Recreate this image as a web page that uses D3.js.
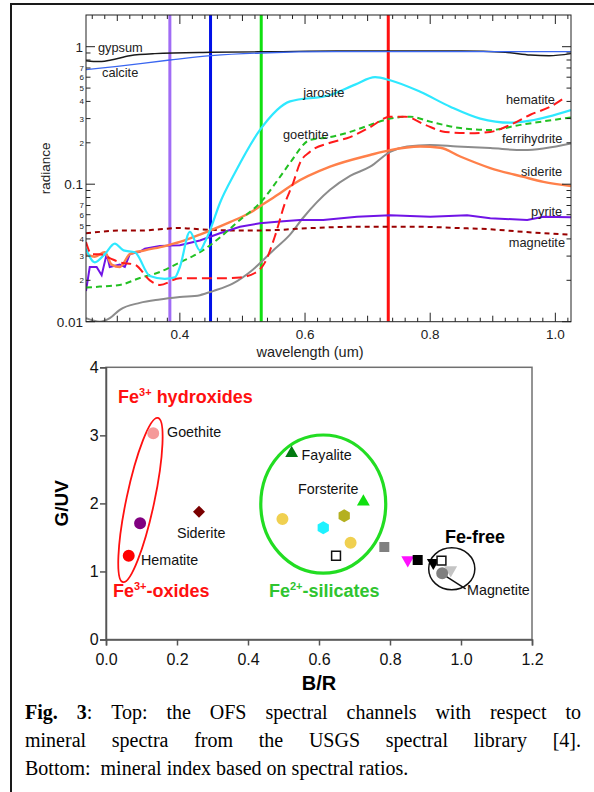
<!DOCTYPE html>
<html lang="en">
<head>
    <meta charset="UTF-8">
    <title>Fig. 3 - OFS spectral channels and mineral index</title>
    <style>
        body {
            margin: 0;
            background: #fff;
            font-family: Arial, "Liberation Sans", sans-serif;
        }
        svg {
            display: block;
        }
        .caption {
            font-family: "Liberation Serif", "Times New Roman", serif;
            font-size: 20px;
            fill: #000;
        }
    </style>
</head>
<body>
    <svg width="594" height="792"></svg>

    <script src="https://d3js.org/d3.v7.min.js"></script>
    <script>
        // ---- top panel: USGS spectra, [wavelength um, radiance] ----
        const gypsum = [[0.25,0.79],[0.262,0.78],[0.275,0.78],[0.29,0.80],[0.32,0.86],[0.36,0.89],[0.45,0.91],[0.55,0.92],[0.65,0.93],[0.75,0.93],[0.85,0.93],[0.92,0.91],[0.96,0.87],[0.99,0.86],[1.025,0.89]];
        const calcite = [[0.25,0.68],[0.3,0.72],[0.384,0.8],[0.45,0.86],[0.53,0.9],[0.65,0.92],[0.8,0.92],[1.025,0.92]];
        const jarosite = [[0.25,0.034],[0.264,0.027],[0.28,0.031],[0.296,0.037],[0.31,0.033],[0.328,0.032],[0.352,0.0215],[0.376,0.0205],[0.392,0.021],[0.4,0.025],[0.416,0.045],[0.432,0.033],[0.44,0.038],[0.448,0.046],[0.464,0.073],[0.488,0.121],[0.528,0.248],[0.576,0.40],[0.64,0.445],[0.68,0.53],[0.712,0.60],[0.736,0.57],[0.784,0.47],[0.832,0.366],[0.88,0.30],[0.928,0.28],[0.96,0.29],[1.025,0.346]];
        const goethite = [[0.25,0.0177],[0.272,0.018],[0.304,0.0185],[0.336,0.0208],[0.368,0.023],[0.4,0.027],[0.432,0.032],[0.464,0.041],[0.496,0.055],[0.528,0.073],[0.56,0.113],[0.576,0.143],[0.608,0.21],[0.64,0.22],[0.672,0.24],[0.704,0.27],[0.736,0.30],[0.768,0.31],[0.8,0.285],[0.848,0.256],[0.896,0.248],[0.944,0.27],[1.025,0.306]];
        const hematite = [[0.25,0.038],[0.259,0.031],[0.272,0.031],[0.288,0.029],[0.304,0.027],[0.328,0.026],[0.352,0.020],[0.368,0.0185],[0.4,0.0207],[0.432,0.0207],[0.464,0.0207],[0.496,0.021],[0.52,0.0226],[0.536,0.027],[0.552,0.042],[0.568,0.073],[0.581,0.102],[0.592,0.143],[0.608,0.172],[0.64,0.20],[0.672,0.22],[0.704,0.26],[0.736,0.31],[0.76,0.31],[0.792,0.27],[0.824,0.24],[0.864,0.235],[0.896,0.24],[0.928,0.27],[0.96,0.32],[0.992,0.366],[1.013,0.42]];
        const siderite = [[0.25,0.031],[0.264,0.0297],[0.28,0.032],[0.291,0.026],[0.304,0.025],[0.32,0.031],[0.344,0.033],[0.376,0.0355],[0.4,0.038],[0.432,0.043],[0.448,0.046],[0.48,0.053],[0.512,0.062],[0.536,0.073],[0.56,0.086],[0.581,0.10],[0.64,0.134],[0.704,0.163],[0.736,0.177],[0.784,0.188],[0.816,0.184],[0.848,0.159],[0.896,0.131],[0.949,0.113],[0.981,0.104],[1.025,0.097]];
        const ferrihydrite = [[0.25,0.0106],[0.272,0.01],[0.288,0.0106],[0.304,0.0122],[0.336,0.0137],[0.368,0.0145],[0.4,0.0151],[0.432,0.0156],[0.453,0.0167],[0.485,0.019],[0.517,0.024],[0.549,0.033],[0.576,0.043],[0.597,0.057],[0.64,0.091],[0.672,0.115],[0.704,0.134],[0.736,0.172],[0.763,0.188],[0.8,0.193],[0.843,0.188],[0.896,0.183],[0.949,0.177],[1.025,0.198]];
        const pyrite = [[0.25,0.0167],[0.256,0.025],[0.267,0.025],[0.275,0.0218],[0.283,0.031],[0.288,0.025],[0.304,0.026],[0.312,0.025],[0.32,0.031],[0.336,0.0322],[0.344,0.034],[0.368,0.0356],[0.4,0.036],[0.432,0.039],[0.464,0.044],[0.496,0.049],[0.528,0.052],[0.56,0.0535],[0.592,0.055],[0.629,0.055],[0.683,0.058],[0.736,0.0595],[0.8,0.058],[0.859,0.0595],[0.896,0.0565],[0.955,0.055],[0.981,0.058],[1.025,0.0575]];
        const magnetite = [[0.25,0.044],[0.272,0.045],[0.304,0.046],[0.336,0.046],[0.368,0.047],[0.4,0.048],[0.432,0.047],[0.496,0.046],[0.56,0.0465],[0.576,0.047],[0.683,0.049],[0.736,0.049],[0.784,0.049],[0.843,0.048],[0.896,0.047],[0.949,0.045],[1.025,0.043]];

        // OFS channels (UV, B, G, R) in um
        const channels = [0.384, 0.449, 0.53, 0.733];

        // ---- bottom panel: mineral index ----
        const markerBR  = [0.133, 0.096, 0.262, 0.064, 0.523, 0.725, 0.497, 0.671, 0.612, 0.689, 0.648, 0.784, 0.85, 0.878, 0.922, 0.945, 0.971, 0.947];
        const markerGUV = [3.03, 1.708, 1.878, 1.231, 2.736, 2.025, 1.771, 1.819, 1.643, 1.422, 1.231, 1.359, 1.168, 1.168, 1.129, 1.158, 1.021, 0.973];
        const xTickLabels = ["0.0", "0.2", "0.4", "0.6", "0.8", "1.0", "1.2"];
        const yTickLabels = ["0", "1", "2", "3", "4"];

        // ---------------------------------------------------------------
        const svg = d3.select("svg");

        // outer frame of the figure
        svg.append("rect")
            .attr("x", 11).attr("y", 4)
            .attr("width", 600).attr("height", 800)
            .attr("fill", "none").attr("stroke", "#1a1a1a").attr("stroke-width", 2);

        // ======================= top chart ============================
        const x = d3.scaleLinear().domain([0.25, 1.025]).range([86, 571]);
        const y = d3.scaleLog().domain([0.01, 1.7]).range([321.7, 15]);
        const [L, R] = x.range(), [B, T] = y.range();

        const topG = svg.append("g");
        topG.append("clipPath").attr("id", "clipTop")
            .append("rect").attr("x", L).attr("y", T).attr("width", R - L).attr("height", B - T);

        const plot = topG.append("g").attr("clip-path", "url(#clipTop)");

        const channelColors = ["#a06cf5", "#0010e8", "#10e010", "#ff1010"];
        plot.selectAll("line.channel")
            .data(channels)
            .join("line")
            .attr("class", "channel")
            .attr("x1", d => x(d)).attr("x2", d => x(d))
            .attr("y1", T).attr("y2", B)
            .attr("stroke", (d, i) => channelColors[i])
            .attr("stroke-width", 3);

        const spectra = [
            { data: gypsum, color: "#1a1a1a", width: 1.4 },
            { data: calcite, color: "#3a66f0", width: 1.3 },
            { data: ferrihydrite, color: "#8c8c8c", width: 2 },
            { data: magnetite, color: "#990000", width: 2, dash: "5,4" },
            { data: pyrite, color: "#7014e6", width: 2, curve: d3.curveLinear },
            { data: siderite, color: "#ff804a", width: 2.4 },
            { data: goethite, color: "#22c022", width: 2, dash: "6,4" },
            { data: jarosite, color: "#2ee8ff", width: 2.2 },
            { data: hematite, color: "#ff1a1a", width: 2, dash: "10,5" }
        ];

        spectra.forEach(s => {
            const line = d3.line()
                .x(d => x(d[0]))
                .y(d => y(d[1]))
                .curve(s.curve || d3.curveMonotoneX);
            plot.append("path")
                .attr("d", line(s.data))
                .attr("fill", "none")
                .attr("stroke", s.color)
                .attr("stroke-width", s.width)
                .attr("stroke-dasharray", s.dash || null);
        });

        // frame
        topG.append("rect")
            .attr("x", L).attr("y", T).attr("width", R - L).attr("height", B - T)
            .attr("fill", "none").attr("stroke", "#222").attr("stroke-width", 1);

        // x ticks every 0.02, inward on top and bottom
        const xTicks = d3.range(13, 52).map(i => i * 0.02);
        xTicks.forEach(v => {
            const tenth = Math.round(v * 10);
            const onTenth = Math.abs(v * 10 - tenth) < 1e-6;
            const len = onTenth ? (tenth % 2 === 0 ? 9 : 6) : 4;
            topG.append("line").attr("x1", x(v)).attr("x2", x(v)).attr("y1", T).attr("y2", T + len)
                .attr("stroke", "#222");
            topG.append("line").attr("x1", x(v)).attr("x2", x(v)).attr("y1", B).attr("y2", B - len)
                .attr("stroke", "#222");
        });
        [0.4, 0.6, 0.8, 1.0].forEach(v => {
            topG.append("text")
                .attr("x", x(v)).attr("y", B + 17)
                .attr("text-anchor", "middle")
                .attr("font-size", 13.5).attr("fill", "#222")
                .text(v.toFixed(1));
        });

        // y ticks: log, labelled minors 2..7
        [0.01, 0.1, 1].forEach(dec => {
            d3.range(1, 10).forEach(k => {
                const v = dec * k;
                if (v > 1.7) return;
                const len = k === 1 ? 9 : 4.5;
                topG.append("line").attr("x1", L).attr("x2", L + len).attr("y1", y(v)).attr("y2", y(v))
                    .attr("stroke", "#222");
                topG.append("line").attr("x1", R).attr("x2", R - len).attr("y1", y(v)).attr("y2", y(v))
                    .attr("stroke", "#222");
                if (k === 1) {
                    topG.append("text")
                        .attr("x", L - 3).attr("y", y(v) + 5)
                        .attr("text-anchor", "end")
                        .attr("font-size", 13.5).attr("fill", "#222")
                        .text(dec === 1 ? "1" : String(dec));
                } else if (k <= 7 && dec < 1) {
                    topG.append("text")
                        .attr("x", L - 2).attr("y", y(v) + 3)
                        .attr("text-anchor", "end")
                        .attr("font-size", 8).attr("fill", "#222")
                        .text(k);
                }
            });
        });

        topG.append("text")
            .attr("transform", `translate(50,${(T + B) / 2}) rotate(-90)`)
            .attr("text-anchor", "middle")
            .attr("font-size", 13.5).attr("fill", "#222")
            .text("radiance");
        topG.append("text")
            .attr("x", 310).attr("y", B + 35)
            .attr("text-anchor", "middle")
            .attr("font-size", 14.5).attr("fill", "#222")
            .text("wavelength (um)");

        // curve labels [wavelength, radiance]
        const curveLabels = [
            ["gypsum", 0.269, 0.908], ["calcite", 0.2756, 0.597], ["jarosite", 0.597, 0.434],
            ["goethite", 0.5648, 0.2114], ["hematite", 0.921, 0.38], ["ferrihydrite", 0.9147, 0.1977],
            ["siderite", 0.945, 0.1138], ["pyrite", 0.961, 0.0587], ["magnetite", 0.9257, 0.0347]
        ];
        topG.selectAll("text.clabel")
            .data(curveLabels)
            .join("text")
            .attr("class", "clabel")
            .attr("x", d => x(d[1])).attr("y", d => y(d[2]))
            .attr("font-size", 12.8).attr("fill", "#222")
            .text(d => d[0]);

        // ======================= bottom chart =========================
        const bx = d3.scaleLinear().domain([0, 1.2]).range([106, 532]);
        const by = d3.scaleLinear().domain([0, 4]).range([639.5, 367.3]);
        const botG = svg.append("g");

        botG.append("rect")
            .attr("x", bx(0)).attr("y", by(4))
            .attr("width", bx(1.2) - bx(0)).attr("height", by(0) - by(4))
            .attr("fill", "none").attr("stroke", "#707070").attr("stroke-width", 1.5);

        const xAxis = botG.append("g")
            .attr("transform", `translate(0,${by(0)})`)
            .call(d3.axisBottom(bx).tickValues(d3.range(0, 7).map(i => i * 0.2))
                .tickSize(6).tickFormat((d, i) => xTickLabels[i]));
        const yAxis = botG.append("g")
            .attr("transform", `translate(${bx(0)},0)`)
            .call(d3.axisLeft(by).tickValues([0, 1, 2, 3, 4])
                .tickSize(6).tickFormat((d, i) => yTickLabels[i]));
        [xAxis, yAxis].forEach(a => {
            a.select(".domain").attr("stroke", "#555").attr("stroke-width", 1.5);
            a.selectAll(".tick line").attr("stroke", "#555").attr("stroke-width", 1.5);
            a.selectAll(".tick text").attr("font-size", 16).attr("font-family", "Arial, 'Liberation Sans', sans-serif").attr("fill", "#111");
        });
        xAxis.selectAll(".tick text").attr("dy", "1.05em");
        yAxis.selectAll(".tick text").attr("dx", "0.1em");

        botG.append("text")
            .attr("transform", `translate(68,${by(2)}) rotate(-90)`)
            .attr("text-anchor", "middle")
            .attr("font-size", 19).attr("font-weight", "bold")
            .text("G/UV");
        botG.append("text")
            .attr("x", bx(0.6)).attr("y", 690)
            .attr("text-anchor", "middle")
            .attr("font-size", 20).attr("font-weight", "bold")
            .text("B/R");

        // group ellipses: centre [B/R, G/UV], half axes in data units, tilt in degrees
        const groups = [
            { c: [0.097, 2.05], r: [0.0394, 1.234], tilt: 12, color: "#ff1010", width: 1.8 },
            { c: [0.612, 1.99], r: [0.176, 1.015], tilt: 0, color: "#22dd22", width: 3.2 },
            { c: [0.974, 1.04], r: [0.065, 0.309], tilt: 0, color: "#111", width: 1.5 }
        ];
        botG.selectAll("ellipse")
            .data(groups)
            .join("ellipse")
            .attr("transform", d => `translate(${bx(d.c[0])},${by(d.c[1])}) rotate(${d.tilt})`)
            .attr("rx", d => bx(d.r[0]) - bx(0))
            .attr("ry", d => by(0) - by(d.r[1]))
            .attr("fill", "none")
            .attr("stroke", d => d.color)
            .attr("stroke-width", d => d.width);

        // magnetite pointer
        botG.append("line")
            .attr("x1", bx(0.947)).attr("y1", by(0.966))
            .attr("x2", bx(1.013)).attr("y2", by(0.745))
            .attr("stroke", "#111").attr("stroke-width", 1.5);

        const symbolHexagon = {
            draw(context, size) {
                const r = Math.sqrt(size / (1.5 * Math.sqrt(3)));
                for (let i = 0; i < 6; i++) {
                    const a = Math.PI / 3 * i - Math.PI / 2;
                    if (i === 0) context.moveTo(r * Math.cos(a), r * Math.sin(a));
                    else context.lineTo(r * Math.cos(a), r * Math.sin(a));
                }
                context.closePath();
            }
        };
        const shapes = {
            circle: { type: d3.symbolCircle, size: 113, rot: 0 },
            square: { type: d3.symbolSquare, size: 100, rot: 0 },
            open: { type: d3.symbolSquare, size: 78, rot: 0 },
            diamond: { type: d3.symbolSquare, size: 72, rot: 45 },
            tri: { type: d3.symbolTriangle, size: 72, rot: 0 },
            down: { type: d3.symbolTriangle, size: 72, rot: 180 },
            hex: { type: symbolHexagon, size: 110, rot: 0 }
        };
        const markerShape = ["circle", "circle", "diamond", "circle", "tri", "tri", "circle", "hex", "hex", "circle",
            "open", "square", "down", "square", "down", "open", "down", "circle"];
        const markerFill = ["#f59a9a", "#800080", "#7a0000", "#ff0000", "#007a10", "#10e010", "#f0d050", "#b4b020", "#1ef2ff", "#f0d050",
            "#fff", "#808080", "#ff10ff", "#000", "#000", "#fff", "#c4c4c4", "#7f7f7f"];

        botG.selectAll("path.marker")
            .data(markerBR.map((v, i) => i))
            .join("path")
            .attr("class", "marker")
            .attr("transform", i => `translate(${bx(markerBR[i])},${by(markerGUV[i])}) rotate(${shapes[markerShape[i]].rot})`)
            .attr("d", i => d3.symbol(shapes[markerShape[i]].type, shapes[markerShape[i]].size)())
            .attr("fill", i => markerFill[i])
            .attr("stroke", i => markerShape[i] === "open" ? "#111" : "none")
            .attr("stroke-width", 1.5);

        // mineral labels [text, B/R, G/UV, anchor]
        const mineralLabels = [
            ["Goethite", 0.172, 2.976, "start"], ["Siderite", 0.268, 1.49, "middle"], ["Hematite", 0.0986, 1.095, "start"],
            ["Fayalite", 0.551, 2.645, "start"], ["Forsterite", 0.541, 2.145, "start"], ["Magnetite", 1.017, 0.654, "start"]
        ];
        botG.selectAll("text.mlabel")
            .data(mineralLabels)
            .join("text")
            .attr("class", "mlabel")
            .attr("x", d => bx(d[1])).attr("y", d => by(d[2]))
            .attr("text-anchor", d => d[3])
            .attr("font-size", 14.3).attr("fill", "#111")
            .text(d => d[0]);

        // group titles [pieces, B/R, G/UV, colour]
        const groupTitles = [
            [["Fe", "3+", " hydroxides"], 0.034, 3.48, "#ff1010"],
            [["Fe", "3+", "-oxides"], 0.0197, 0.625, "#ff1010"],
            [["Fe", "2+", "-silicates"], 0.459, 0.625, "#2fc42f"],
            [["Fe-free"], 0.955, 1.418, "#000"]
        ];
        groupTitles.forEach(g => {
            const t = botG.append("text")
                .attr("x", bx(g[1])).attr("y", by(g[2]))
                .attr("font-size", 18).attr("font-weight", "bold")
                .attr("fill", g[3]);
            t.append("tspan").text(g[0][0]);
            if (g[0].length > 1) {
                t.append("tspan").attr("font-size", 11).attr("dy", -7).text(g[0][1]);
                t.append("tspan").attr("dy", 7).text(g[0][2]);
            }
        });

        // ======================= caption ==============================
        const capLeft = 25, capRight = 581;
        const capLines = [
            { y: 719, words: [[["Fig.", 1]], [["3", 1], [":", 0]], [["Top:", 0]], [["the", 0]], [["OFS", 0]], [["spectral", 0]], [["channels", 0]], [["with", 0]], [["respect", 0]], [["to", 0]]] },
            { y: 747, words: [[["mineral", 0]], [["spectra", 0]], [["from", 0]], [["the", 0]], [["USGS", 0]], [["spectral", 0]], [["library", 0]], [["[4].", 0]]] }
        ];
        capLines.forEach(line => {
            const nodes = line.words.map(w => {
                const t = svg.append("text").attr("class", "caption").attr("y", line.y);
                w.forEach(seg => t.append("tspan").attr("font-weight", seg[1] ? "bold" : null).text(seg[0]));
                return t;
            });
            const widths = nodes.map(n => n.node().getComputedTextLength());
            const gap = (capRight - capLeft - d3.sum(widths)) / (nodes.length - 1);
            let cx = capLeft;
            nodes.forEach((n, i) => { n.attr("x", cx); cx += widths[i] + gap; });
        });
        svg.append("text")
            .attr("class", "caption")
            .attr("x", capLeft).attr("y", 775)
            .style("white-space", "pre")
            .text("Bottom:  mineral index based on spectral ratios.");
    </script>
</body>
</html>
